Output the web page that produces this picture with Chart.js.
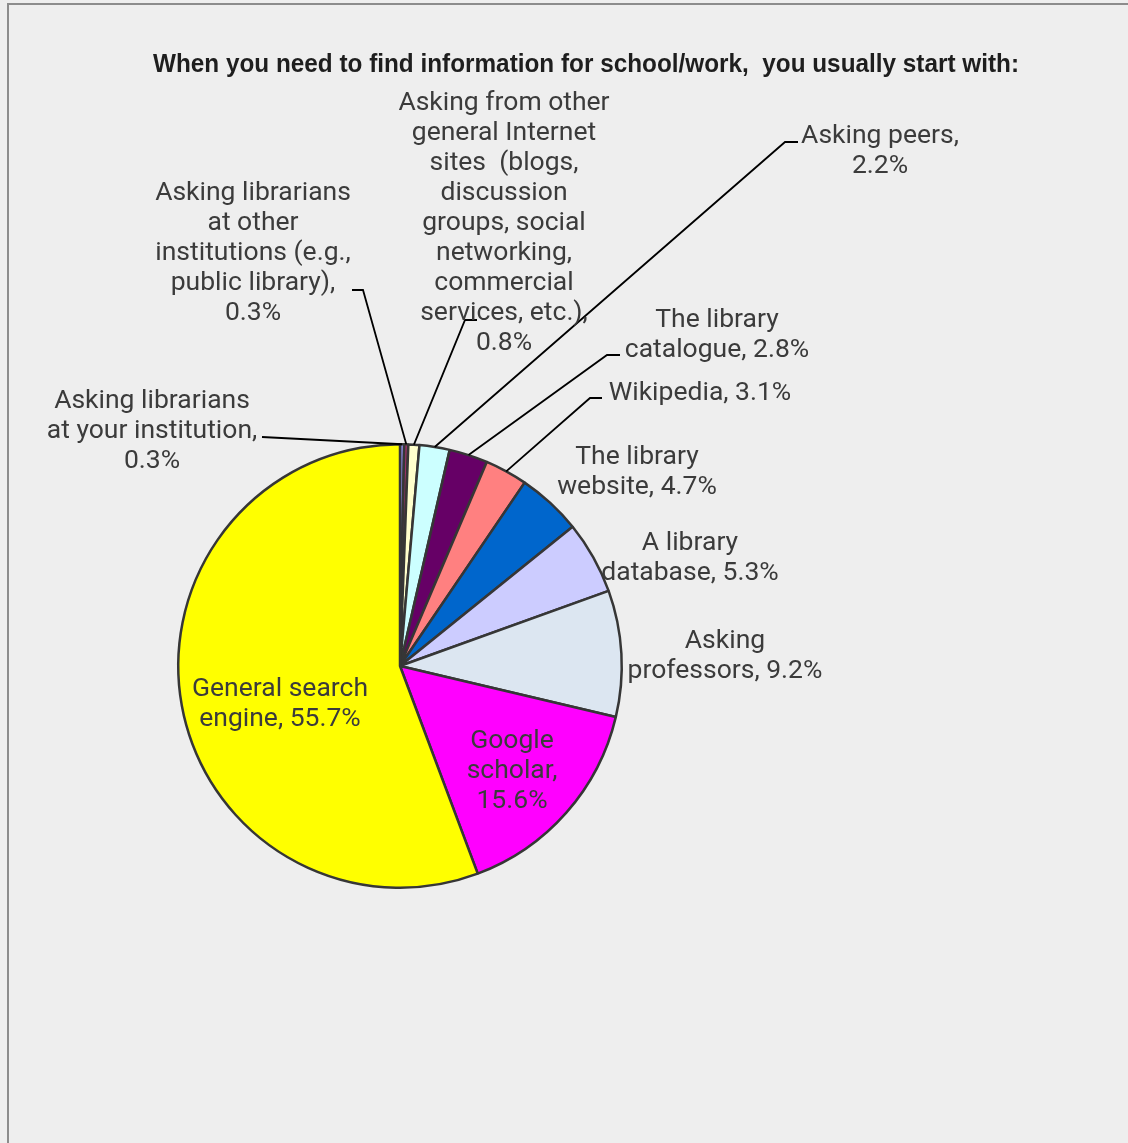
<!DOCTYPE html>
<html>
<head>
<meta charset="utf-8">
<script src="https://cdn.jsdelivr.net/npm/chart.js@4/dist/chart.umd.min.js"></script>
<style>
  html, body { margin: 0; padding: 0; background: #EEEEEE; }
  #wrap { position: relative; width: 1128px; height: 1143px; overflow: hidden; }
  #frame { position: absolute; left: 7px; top: 3px; width: 1200px; height: 1200px;
           border-left: 2px solid #8c8c8c; border-top: 2px solid #8c8c8c; box-sizing: border-box; }
  canvas { position: absolute; left: 0; top: 0; }
</style>
</head>
<body>
<div id="wrap">
  <div id="frame"></div>
  <canvas id="c" width="1128" height="1143"></canvas>
</div>
<script>
// ---- data ----
const titleText = "When you need to find information for school/work,  you usually start with:";
const categories = [
  "Asking librarians at your institution",
  "Asking librarians at other institutions (e.g., public library)",
  "Asking from other general Internet sites  (blogs, discussion groups, social networking, commercial services, etc.)",
  "Asking peers",
  "The library catalogue",
  "Wikipedia",
  "The library website",
  "A library database",
  "Asking professors",
  "Google scholar",
  "General search engine"
];
const values = [0.3, 0.3, 0.8, 2.2, 2.8, 3.1, 4.7, 5.3, 9.2, 15.6, 55.7];
const labelLines = [
  ["Asking librarians", "at your institution,", "0.3%"],
  ["Asking librarians", "at other", "institutions (e.g.,", "public library),", "0.3%"],
  ["Asking from other", "general Internet", "sites  (blogs,", "discussion", "groups, social", "networking,", "commercial", "services, etc.),", "0.8%"],
  ["Asking peers,", "2.2%"],
  ["The library", "catalogue, 2.8%"],
  ["Wikipedia, 3.1%"],
  ["The library", "website, 4.7%"],
  ["A library", "database, 5.3%"],
  ["Asking", "professors, 9.2%"],
  ["Google", "scholar,", "15.6%"],
  ["General search", "engine, 55.7%"]
];
const colors = ["#9999FF", "#993366", "#FFFFCC", "#CCFFFF", "#660066", "#FF8080",
                "#0066CC", "#CCCCFF", "#DCE6F1", "#FF00FF", "#FFFF00"];

// ---- layout (positions of label text and leader elbows) ----
const labelPos = [
  [152, 401], [253, 193], [504, 103], [880, 136], [717, 320], [700, 393],
  [637, 457], [690, 543], [725, 641], [512, 741], [280, 689]
];
const leaderPts = [
  [[262, 437]],
  [[352, 290], [363, 290]],
  [[477, 320], [465, 320]],
  [[798, 142], [785, 142]],
  [[620, 355], [607, 355]],
  [[602, 398], [590, 398]],
  null, null, null, null, null
];

const labelPlugin = {
  id: 'pieLabels',
  afterDatasetsDraw(chart) {
    const ctx = chart.ctx;
    const meta = chart.getDatasetMeta(0);
    ctx.save();
    // leader lines
    ctx.strokeStyle = '#000000';
    ctx.lineWidth = 1.8;
    meta.data.forEach((arc, i) => {
      const pts = leaderPts[i];
      if (!pts) return;
      const mid = (arc.startAngle + arc.endAngle) / 2;
      const ex = arc.x + Math.cos(mid) * arc.outerRadius;
      const ey = arc.y + Math.sin(mid) * arc.outerRadius;
      ctx.beginPath();
      ctx.moveTo(pts[0][0], pts[0][1]);
      for (let k = 1; k < pts.length; k++) ctx.lineTo(pts[k][0], pts[k][1]);
      ctx.lineTo(ex, ey);
      ctx.stroke();
    });
    // labels
    ctx.fillStyle = '#3b3b3b';
    ctx.font = '26.5px Roboto';
    ctx.textAlign = 'center';
    ctx.textBaseline = 'middle';
    labelLines.forEach((lines, i) => {
      const [x, y] = labelPos[i];
      lines.forEach((ln, j) => ctx.fillText(ln, x, y + j * 30));
    });
    // title (condensed bold)
    ctx.fillStyle = '#1e1e1e';
    ctx.font = 'bold 26px "Liberation Sans"';
    const w = ctx.measureText(titleText).width;
    const sx = 866 / w;
    ctx.translate(586, 65);
    ctx.scale(sx, 1);
    ctx.fillText(titleText, 0, 0);
    ctx.restore();
  }
};

new Chart(document.getElementById('c'), {
  type: 'pie',
  data: {
    labels: categories,
    datasets: [{
      data: values,
      backgroundColor: colors,
      borderColor: '#363636',
      borderWidth: 2.5,
      borderAlign: 'center'
    }]
  },
  options: {
    responsive: false,
    animation: false,
    layout: { padding: { left: 177, right: 505, top: 443, bottom: 254 } },
    plugins: {
      legend: { display: false },
      tooltip: { enabled: false },
      title: { display: false }
    }
  },
  plugins: [labelPlugin]
});
</script>
</body>
</html>
